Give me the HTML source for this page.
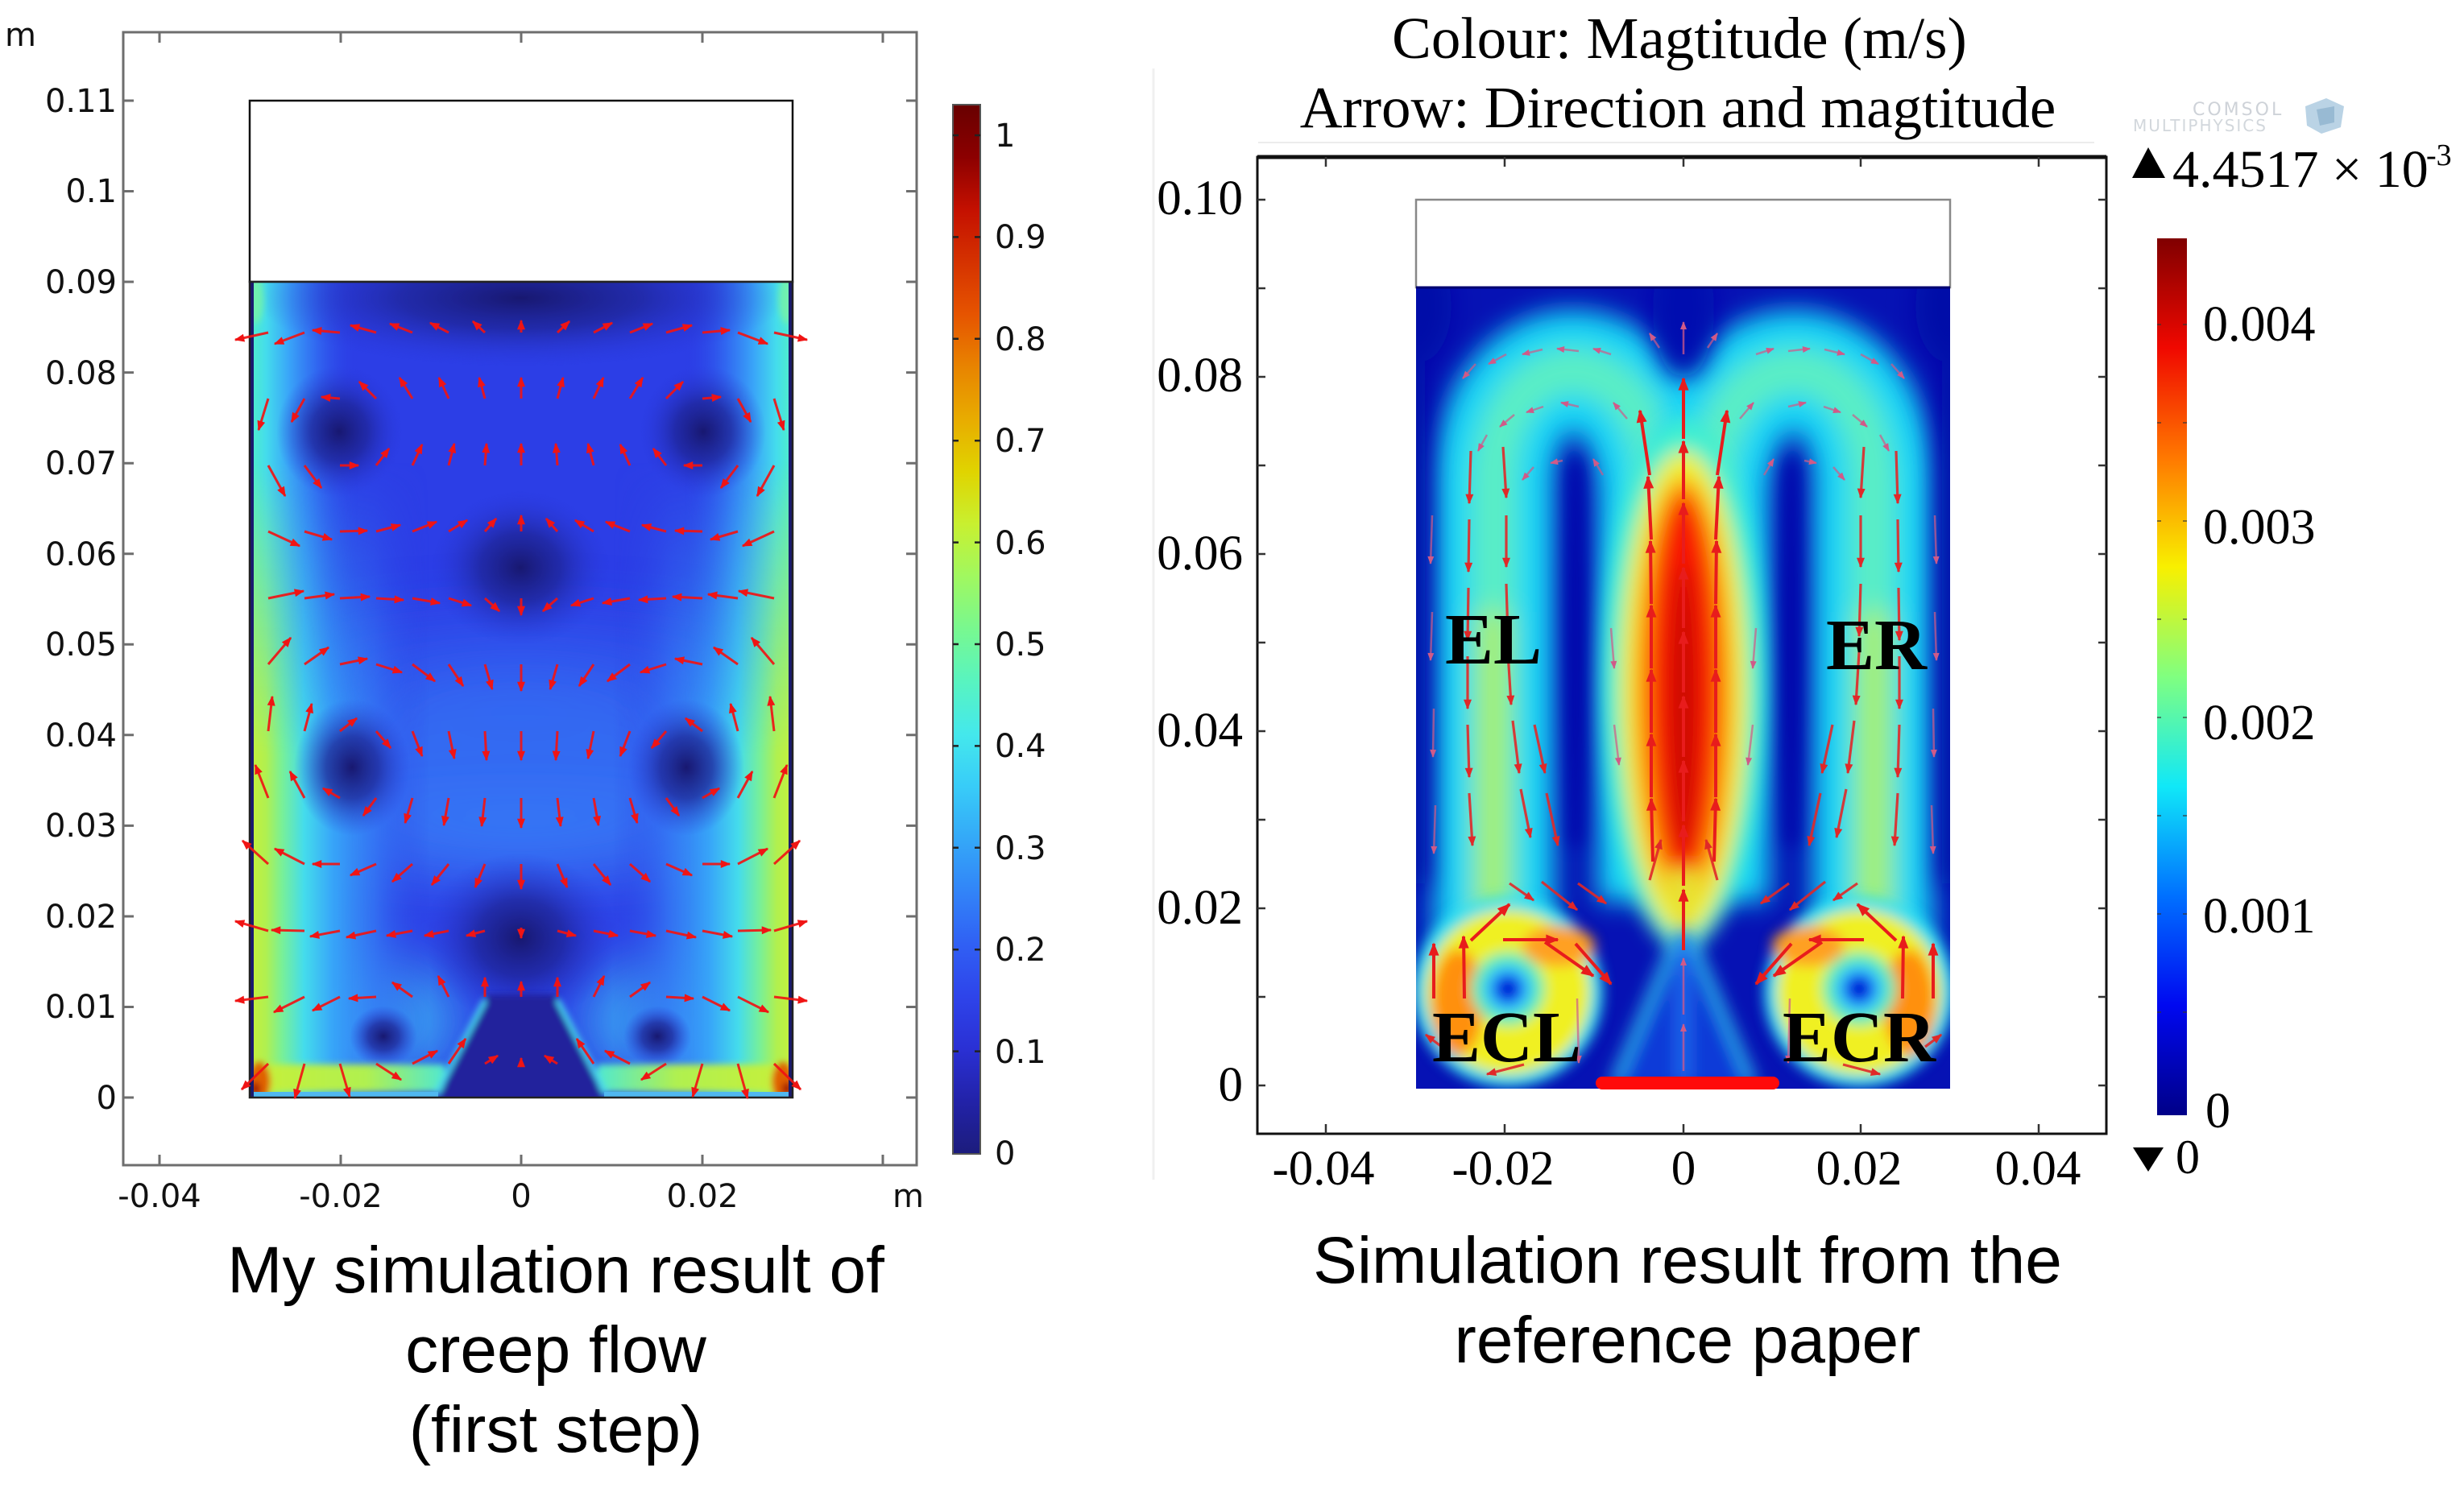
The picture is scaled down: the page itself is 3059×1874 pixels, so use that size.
<!DOCTYPE html>
<html><head><meta charset="utf-8">
<style>html,body{margin:0;padding:0;background:#fff}svg{display:block}</style>
</head><body>
<svg width="3059" height="1874" viewBox="0 0 3059 1874" xmlns="http://www.w3.org/2000/svg">
<style>
.dj{font-family:"DejaVu Sans","Liberation Sans",sans-serif;font-size:40px;fill:#111}
.tm{font-family:"Liberation Serif","DejaVu Serif",serif;fill:#000}
.cap{font-family:"Liberation Sans",Arial,sans-serif;font-size:82px;fill:#000}
</style>
<defs>
<clipPath id="cL"><rect x="310" y="350" width="674" height="1013"/></clipPath>
<clipPath id="cR"><rect x="1758" y="357" width="663" height="995"/></clipPath>
<filter id="fB" filterUnits="userSpaceOnUse" x="0" y="0" width="3059" height="1874"><feGaussianBlur stdDeviation="35"/></filter>
<filter id="fR" filterUnits="userSpaceOnUse" x="0" y="0" width="3059" height="1874"><feGaussianBlur stdDeviation="16"/></filter>
<filter id="fP" filterUnits="userSpaceOnUse" x="0" y="0" width="3059" height="1874"><feGaussianBlur stdDeviation="12"/></filter>
<filter id="fE" filterUnits="userSpaceOnUse" x="0" y="0" width="3059" height="1874"><feGaussianBlur stdDeviation="8"/></filter>
<filter id="f4" filterUnits="userSpaceOnUse" x="0" y="0" width="3059" height="1874"><feGaussianBlur stdDeviation="4"/></filter>
<filter id="f10" filterUnits="userSpaceOnUse" x="0" y="0" width="3059" height="1874"><feGaussianBlur stdDeviation="10"/></filter>

<linearGradient id="cbL" x1="0" y1="0" x2="0" y2="1">
<stop offset="0" stop-color="#680000"/><stop offset="0.05" stop-color="#8c0000"/><stop offset="0.1" stop-color="#c41000"/>
<stop offset="0.2" stop-color="#e65400"/><stop offset="0.25" stop-color="#e88400"/><stop offset="0.3" stop-color="#e8ac00"/>
<stop offset="0.35" stop-color="#e0d400"/><stop offset="0.4" stop-color="#c8f030"/><stop offset="0.45" stop-color="#a0f860"/>
<stop offset="0.5" stop-color="#78f890"/><stop offset="0.55" stop-color="#58f4c0"/><stop offset="0.6" stop-color="#44e8ec"/>
<stop offset="0.65" stop-color="#38ccf8"/><stop offset="0.7" stop-color="#34a8f8"/><stop offset="0.75" stop-color="#3284f8"/>
<stop offset="0.8" stop-color="#3060f4"/><stop offset="0.85" stop-color="#2e44ea"/><stop offset="0.9" stop-color="#2a30d4"/>
<stop offset="0.95" stop-color="#2222a8"/><stop offset="1" stop-color="#1c1c7c"/>
</linearGradient>
<linearGradient id="cbR" x1="0" y1="0" x2="0" y2="1">
<stop offset="0" stop-color="#800000"/><stop offset="0.125" stop-color="#f00800"/><stop offset="0.25" stop-color="#ff7800"/>
<stop offset="0.375" stop-color="#f8f000"/><stop offset="0.5" stop-color="#80ff80"/><stop offset="0.625" stop-color="#10e8f8"/>
<stop offset="0.75" stop-color="#0070ff"/><stop offset="0.875" stop-color="#0008f0"/><stop offset="1" stop-color="#000088"/>
</linearGradient>

<linearGradient id="gU" gradientUnits="userSpaceOnUse" x1="310" y1="0" x2="984" y2="0">
<stop offset="0" stop-color="#50f0c8"/><stop offset="0.03" stop-color="#44dcec"/><stop offset="0.07" stop-color="#3aa8f8"/>
<stop offset="0.12" stop-color="#3270f2" stop-opacity="0.9"/><stop offset="0.2" stop-color="#2c3ee6" stop-opacity="0"/>
<stop offset="0.8" stop-color="#2c3ee6" stop-opacity="0"/><stop offset="0.88" stop-color="#3270f2" stop-opacity="0.9"/>
<stop offset="0.93" stop-color="#3aa8f8"/><stop offset="0.97" stop-color="#44dcec"/><stop offset="1" stop-color="#50f0c8"/>
</linearGradient>
<linearGradient id="gLo" gradientUnits="userSpaceOnUse" x1="310" y1="0" x2="984" y2="0">
<stop offset="0" stop-color="#c8f038"/><stop offset="0.03" stop-color="#b0f050"/><stop offset="0.06" stop-color="#78f098"/>
<stop offset="0.1" stop-color="#44dcec"/><stop offset="0.15" stop-color="#38a8f8"/><stop offset="0.23" stop-color="#3478f4" stop-opacity="0.8"/>
<stop offset="0.33" stop-color="#2c3ee6" stop-opacity="0"/><stop offset="0.67" stop-color="#2c3ee6" stop-opacity="0"/>
<stop offset="0.77" stop-color="#3478f4" stop-opacity="0.8"/><stop offset="0.85" stop-color="#38a8f8"/><stop offset="0.9" stop-color="#44dcec"/>
<stop offset="0.94" stop-color="#78f098"/><stop offset="0.97" stop-color="#b0f050"/><stop offset="1" stop-color="#c8f038"/>
</linearGradient>
<linearGradient id="gMask" gradientUnits="userSpaceOnUse" x1="0" y1="350" x2="0" y2="1363">
<stop offset="0" stop-color="#000"/><stop offset="0.22" stop-color="#000"/><stop offset="0.58" stop-color="#fff"/><stop offset="1" stop-color="#fff"/>
</linearGradient>
<mask id="mLo" maskUnits="userSpaceOnUse" x="0" y="0" width="3059" height="1874"><rect x="300" y="340" width="700" height="1030" fill="url(#gMask)"/></mask>
<linearGradient id="flo" gradientUnits="userSpaceOnUse" x1="310" y1="0" x2="552" y2="0">
<stop offset="0" stop-color="#c8f038"/><stop offset="0.6" stop-color="#b0f050"/><stop offset="1" stop-color="#50e8d0"/>
</linearGradient>
<radialGradient id="dk">
<stop offset="0" stop-color="#181870"/><stop offset="0.45" stop-color="#1e2496" stop-opacity="0.75"/><stop offset="1" stop-color="#2a38d8" stop-opacity="0"/>
</radialGradient>

<marker id="ha" viewBox="0 0 10 8" refX="9" refY="4" markerWidth="14" markerHeight="10" markerUnits="userSpaceOnUse" orient="auto"><path d="M0,0 L10,4 L0,8 z" fill="#f01414"/></marker>
<marker id="hS" viewBox="0 0 10 8" refX="9" refY="4" markerWidth="18" markerHeight="13" markerUnits="userSpaceOnUse" orient="auto"><path d="M0,0 L10,4 L0,8 z" fill="#e81c1c"/></marker>
<marker id="hM" viewBox="0 0 10 8" refX="9" refY="4" markerWidth="14" markerHeight="10" markerUnits="userSpaceOnUse" orient="auto"><path d="M0,0 L10,4 L0,8 z" fill="#e02828"/></marker>
<marker id="hF" viewBox="0 0 10 8" refX="9" refY="4" markerWidth="11" markerHeight="8" markerUnits="userSpaceOnUse" orient="auto"><path d="M0,0 L10,4 L0,8 z" fill="#d05a88"/></marker>
</defs>

<rect width="3059" height="1874" fill="#fff"/>

<!-- ================= LEFT PANEL ================= -->
<rect x="153" y="40" width="985" height="1407" fill="none" stroke="#6e6e6e" stroke-width="3"/>
<g stroke="#6e6e6e" stroke-width="3">
<path d="M153,125h13M153,237.5h13M153,350h13M153,462.6h13M153,575.2h13M153,687.7h13M153,800.3h13M153,912.8h13M153,1025.4h13M153,1138h13M153,1250.5h13M153,1363h13"/>
<path d="M1138,125h-13M1138,237.5h-13M1138,350h-13M1138,462.6h-13M1138,575.2h-13M1138,687.7h-13M1138,800.3h-13M1138,912.8h-13M1138,1025.4h-13M1138,1138h-13M1138,1250.5h-13M1138,1363h-13"/>
<path d="M198,40v13M423,40v13M647,40v13M872,40v13M1096,40v13M198,1447v-13M423,1447v-13M647,1447v-13M872,1447v-13M1096,1447v-13"/>
</g>
<g class="dj" text-anchor="end">
<text x="145" y="139">0.11</text><text x="145" y="251">0.1</text><text x="145" y="364">0.09</text>
<text x="145" y="477">0.08</text><text x="145" y="589">0.07</text><text x="145" y="702">0.06</text>
<text x="145" y="814">0.05</text><text x="145" y="927">0.04</text><text x="145" y="1039">0.03</text>
<text x="145" y="1152">0.02</text><text x="145" y="1264">0.01</text><text x="145" y="1377">0</text>
</g>
<g class="dj" text-anchor="middle">
<text x="198" y="1499">-0.04</text><text x="423" y="1499">-0.02</text><text x="647" y="1499">0</text><text x="872" y="1499">0.02</text>
</g>
<text class="dj" x="6" y="57">m</text>
<text class="dj" x="1108" y="1499">m</text>

<rect x="310" y="125" width="674" height="225" fill="#fff" stroke="#111" stroke-width="2.5"/>

<g clip-path="url(#cL)">
<rect x="310" y="350" width="674" height="1013" fill="#2c3ee6"/>
<g filter="url(#fB)">
<ellipse cx="646" cy="950" rx="250" ry="120" fill="#3578f6" opacity="0.75"/>
<ellipse cx="646" cy="1045" rx="320" ry="60" fill="#3a82f8" opacity="0.55"/>
<ellipse cx="646" cy="820" rx="300" ry="55" fill="#3264f2" opacity="0.5"/>
<ellipse cx="470" cy="1268" rx="100" ry="75" fill="#3cb8f4" opacity="0.85"/>
<ellipse cx="824" cy="1268" rx="100" ry="75" fill="#3cb8f4" opacity="0.85"/>
</g>
<rect x="310" y="350" width="674" height="1013" fill="url(#gU)"/>
<rect x="310" y="350" width="674" height="1013" fill="url(#gLo)" mask="url(#mLo)"/>
<ellipse cx="646" cy="370" rx="330" ry="85" fill="url(#dk)"/>
<ellipse cx="421" cy="536" rx="78" ry="82" fill="url(#dk)"/>
<ellipse cx="873" cy="536" rx="78" ry="82" fill="url(#dk)"/>
<ellipse cx="646" cy="705" rx="110" ry="95" fill="url(#dk)"/>
<ellipse cx="437" cy="953" rx="72" ry="85" fill="url(#dk)"/>
<ellipse cx="852" cy="953" rx="72" ry="85" fill="url(#dk)"/>
<ellipse cx="646" cy="1165" rx="120" ry="105" fill="url(#dk)"/>
<ellipse cx="476" cy="1287" rx="42" ry="38" fill="url(#dk)"/>
<ellipse cx="816" cy="1287" rx="42" ry="38" fill="url(#dk)"/>
<g filter="url(#f4)">
<rect x="310" y="1322" width="242" height="34" fill="url(#flo)"/>
<rect x="310" y="1322" width="242" height="34" fill="url(#flo)" transform="translate(1294,0) scale(-1,1)"/>
<polygon points="604,1235 690,1235 752,1368 542,1368" fill="#22229c"/>
<line x1="542" y1="1358" x2="602" y2="1242" stroke="#48d8f0" stroke-width="6"/>
<line x1="752" y1="1358" x2="692" y2="1242" stroke="#48d8f0" stroke-width="6"/>
<ellipse cx="322" cy="1343" rx="14" ry="24" fill="#e06000"/>
<ellipse cx="972" cy="1343" rx="14" ry="24" fill="#e06000"/>
<ellipse cx="317" cy="1352" rx="6" ry="8" fill="#a01000"/>
<ellipse cx="977" cy="1352" rx="6" ry="8" fill="#a01000"/>
<ellipse cx="317" cy="372" rx="10" ry="30" fill="#70f0b0"/>
<ellipse cx="977" cy="372" rx="10" ry="30" fill="#70f0b0"/>
</g>
<rect x="310" y="1356" width="234" height="7" fill="#50b8f0"/>
<rect x="750" y="1356" width="234" height="7" fill="#50b8f0"/>
<rect x="310" y="350" width="5" height="1013" fill="#1a1a70"/>
<rect x="979" y="350" width="5" height="1013" fill="#1a1a70"/>
</g>
<rect x="310" y="350" width="674" height="1013" fill="none" stroke="#222" stroke-width="2.5"/>

<g id="la" stroke="#f01414" stroke-width="3" stroke-opacity="0.92" marker-end="url(#ha)">
<line x1="333" y1="413" x2="292" y2="422"/><line x1="378" y1="413" x2="341" y2="427"/><line x1="422" y1="413" x2="388" y2="410"/><line x1="467" y1="413" x2="435" y2="404"/><line x1="512" y1="413" x2="484" y2="402"/><line x1="557" y1="413" x2="534" y2="401"/><line x1="602" y1="413" x2="587" y2="399"/>
<line x1="333" y1="495" x2="321" y2="534"/><line x1="378" y1="495" x2="362" y2="524"/><line x1="422" y1="495" x2="399" y2="493"/><line x1="467" y1="495" x2="446" y2="474"/><line x1="512" y1="495" x2="496" y2="469"/><line x1="557" y1="495" x2="545" y2="469"/><line x1="602" y1="495" x2="595" y2="469"/>
<line x1="333" y1="578" x2="354" y2="616"/><line x1="378" y1="578" x2="399" y2="606"/><line x1="422" y1="578" x2="445" y2="578"/><line x1="467" y1="578" x2="483" y2="557"/><line x1="512" y1="578" x2="524" y2="552"/><line x1="557" y1="578" x2="564" y2="551"/><line x1="602" y1="578" x2="604" y2="551"/>
<line x1="333" y1="660" x2="372" y2="678"/><line x1="378" y1="660" x2="412" y2="670"/><line x1="422" y1="660" x2="456" y2="659"/><line x1="467" y1="660" x2="497" y2="652"/><line x1="512" y1="660" x2="542" y2="648"/><line x1="557" y1="660" x2="580" y2="646"/><line x1="602" y1="660" x2="616" y2="644"/>
<line x1="333" y1="743" x2="377" y2="734"/><line x1="378" y1="743" x2="415" y2="738"/><line x1="422" y1="743" x2="459" y2="741"/><line x1="467" y1="743" x2="501" y2="745"/><line x1="512" y1="743" x2="546" y2="749"/><line x1="557" y1="743" x2="585" y2="752"/><line x1="602" y1="743" x2="620" y2="759"/>
<line x1="333" y1="825" x2="361" y2="792"/><line x1="378" y1="825" x2="408" y2="804"/><line x1="422" y1="825" x2="456" y2="818"/><line x1="467" y1="825" x2="499" y2="835"/><line x1="512" y1="825" x2="540" y2="846"/><line x1="557" y1="825" x2="575" y2="852"/><line x1="602" y1="825" x2="611" y2="856"/>
<line x1="333" y1="908" x2="338" y2="865"/><line x1="378" y1="908" x2="387" y2="874"/><line x1="422" y1="908" x2="443" y2="892"/><line x1="467" y1="908" x2="485" y2="929"/><line x1="512" y1="908" x2="524" y2="939"/><line x1="557" y1="908" x2="564" y2="942"/><line x1="602" y1="908" x2="604" y2="944"/>
<line x1="333" y1="991" x2="317" y2="950"/><line x1="378" y1="991" x2="360" y2="958"/><line x1="422" y1="991" x2="401" y2="979"/><line x1="467" y1="991" x2="451" y2="1013"/><line x1="512" y1="991" x2="503" y2="1022"/><line x1="557" y1="991" x2="551" y2="1025"/><line x1="602" y1="991" x2="598" y2="1026"/>
<line x1="333" y1="1073" x2="301" y2="1044"/><line x1="378" y1="1073" x2="341" y2="1054"/><line x1="422" y1="1073" x2="388" y2="1073"/><line x1="467" y1="1073" x2="435" y2="1087"/><line x1="512" y1="1073" x2="487" y2="1095"/><line x1="557" y1="1073" x2="536" y2="1099"/><line x1="602" y1="1073" x2="590" y2="1102"/>
<line x1="333" y1="1156" x2="292" y2="1144"/><line x1="378" y1="1156" x2="337" y2="1155"/><line x1="422" y1="1156" x2="385" y2="1163"/><line x1="467" y1="1156" x2="430" y2="1164"/><line x1="512" y1="1156" x2="480" y2="1162"/><line x1="557" y1="1156" x2="527" y2="1162"/><line x1="602" y1="1156" x2="579" y2="1162"/>
<line x1="333" y1="1238" x2="292" y2="1243"/><line x1="378" y1="1238" x2="340" y2="1257"/><line x1="422" y1="1238" x2="388" y2="1255"/><line x1="467" y1="1238" x2="433" y2="1240"/><line x1="512" y1="1238" x2="487" y2="1220"/><line x1="557" y1="1238" x2="544" y2="1212"/><line x1="602" y1="1238" x2="602" y2="1214"/>
<line x1="333" y1="1321" x2="300" y2="1353"/><line x1="378" y1="1321" x2="366" y2="1364"/><line x1="422" y1="1321" x2="434" y2="1362"/><line x1="467" y1="1321" x2="498" y2="1341"/><line x1="512" y1="1321" x2="543" y2="1305"/><line x1="557" y1="1321" x2="578" y2="1290"/><line x1="602" y1="1321" x2="618" y2="1311"/>
</g>
<use href="#la" transform="translate(1294,0) scale(-1,1)"/>
<g stroke="#f01414" stroke-width="3" stroke-opacity="0.9" marker-end="url(#ha)">
<line x1="647" y1="413" x2="647" y2="398"/><line x1="647" y1="495" x2="647" y2="469"/><line x1="647" y1="578" x2="647" y2="551"/>
<line x1="647" y1="660" x2="647" y2="640"/><line x1="647" y1="743" x2="647" y2="764"/><line x1="647" y1="825" x2="647" y2="858"/>
<line x1="647" y1="908" x2="647" y2="944"/><line x1="647" y1="991" x2="647" y2="1028"/><line x1="647" y1="1073" x2="647" y2="1104"/>
<line x1="647" y1="1152" x2="647" y2="1165"/><line x1="647" y1="1238" x2="647" y2="1219"/><line x1="647" y1="1324" x2="647" y2="1314"/>
</g>

<rect x="1183" y="130" width="34" height="1303" fill="url(#cbL)" stroke="#555" stroke-width="2"/>
<g stroke="#222" stroke-width="2.5">
<path d="M1183,168h7M1183,294.4h7M1183,420.8h7M1183,547.2h7M1183,673.6h7M1183,800h7M1183,926.4h7M1183,1052.8h7M1183,1179.2h7M1183,1305.6h7"/>
<path d="M1217,168h-7M1217,294.4h-7M1217,420.8h-7M1217,547.2h-7M1217,673.6h-7M1217,800h-7M1217,926.4h-7M1217,1052.8h-7M1217,1179.2h-7M1217,1305.6h-7"/>
</g>
<g class="dj">
<text x="1235" y="182">1</text><text x="1235" y="308">0.9</text><text x="1235" y="435">0.8</text><text x="1235" y="561">0.7</text>
<text x="1235" y="688">0.6</text><text x="1235" y="814">0.5</text><text x="1235" y="940">0.4</text><text x="1235" y="1067">0.3</text>
<text x="1235" y="1193">0.2</text><text x="1235" y="1320">0.1</text><text x="1235" y="1446">0</text>
</g>

<g class="cap" text-anchor="middle">
<text x="690" y="1605">My simulation result of</text>
<text x="690" y="1704">creep flow</text>
<text x="690" y="1803">(first step)</text>
</g>

<!-- ================= RIGHT PANEL ================= -->
<line x1="1432" y1="85" x2="1432" y2="1465" stroke="#f0f0f0" stroke-width="3"/>
<line x1="1562" y1="177" x2="2600" y2="177" stroke="#ececec" stroke-width="2"/>

<g class="tm" font-size="73" text-anchor="middle">
<text x="2085" y="72">Colour: Magtitude (m/s)</text>
<text x="2083" y="158">Arrow: Direction and magtitude</text>
</g>

<g opacity="0.8">
<text x="2722" y="143" font-family="'DejaVu Sans',sans-serif" font-size="22" fill="#c2c8cf" letter-spacing="3">COMSOL</text>
<text x="2648" y="163" font-family="'DejaVu Sans',sans-serif" font-size="20" fill="#c8ced4" letter-spacing="2">MULTIPHYSICS</text>
<polygon points="2862,132 2888,122 2910,132 2906,158 2882,166 2864,156" fill="#a9c9df"/>
<polygon points="2876,136 2898,132 2898,152 2880,156" fill="#7fa9c9"/>
</g>

<rect x="1561" y="195" width="1054" height="1213" fill="none" stroke="#111" stroke-width="3"/>
<line x1="1561" y1="195" x2="2615" y2="195" stroke="#111" stroke-width="5"/>
<g stroke="#333" stroke-width="2.5">
<path d="M1561,248h10M1561,358h10M1561,468h10M1561,578h10M1561,688h10M1561,798h10M1561,908h10M1561,1018h10M1561,1128h10M1561,1238h10M1561,1348h10"/>
<path d="M2615,248h-10M2615,358h-10M2615,468h-10M2615,578h-10M2615,688h-10M2615,798h-10M2615,908h-10M2615,1018h-10M2615,1128h-10M2615,1238h-10M2615,1348h-10"/>
<path d="M1646,195v12M1868,195v12M2090,195v12M2310,195v12M2531,195v12M1646,1408v-12M1868,1408v-12M2090,1408v-12M2310,1408v-12M2531,1408v-12"/>
</g>
<g class="tm" font-size="61" text-anchor="end">
<text x="1543" y="266">0.10</text><text x="1543" y="486">0.08</text><text x="1543" y="707">0.06</text>
<text x="1543" y="927">0.04</text><text x="1543" y="1147">0.02</text><text x="1543" y="1367">0</text>
</g>
<g class="tm" font-size="61" text-anchor="middle">
<text x="1643" y="1471">-0.04</text><text x="1866" y="1471">-0.02</text><text x="2090" y="1471">0</text>
<text x="2308" y="1471">0.02</text><text x="2530" y="1471">0.04</text>
</g>

<rect x="1758" y="248" width="663" height="109" fill="#fff" stroke="#888" stroke-width="2.5"/>

<g clip-path="url(#cR)">
<rect x="1758" y="357" width="663" height="995" fill="#0612b4"/>
<g filter="url(#fR)">
<g id="arcL" fill="none">
<path d="M1855,1230 L1855,600 C1855,410 2058,410 2058,620 L2058,1120" stroke="#18d4f6" stroke-width="150"/>
<path d="M1855,1230 L1855,600 C1855,410 2058,410 2058,620 L2058,900" stroke="#5ceec4" stroke-width="56"/>
<path d="M1853,760 L1853,1150" stroke="#a8f068" stroke-width="40"/>
</g>
<use href="#arcL" transform="translate(4180,0) scale(-1,1)"/>
</g>
<g filter="url(#fR)">
<ellipse cx="2090" cy="385" rx="38" ry="85" fill="#0610b0"/>
<ellipse cx="1762" cy="380" rx="40" ry="70" fill="#0008a8"/>
<ellipse cx="2418" cy="380" rx="40" ry="70" fill="#0008a8"/>
<rect x="1740" y="357" width="30" height="740" fill="#0008a8"/>
<rect x="2410" y="357" width="30" height="740" fill="#0008a8"/>
</g>
<g filter="url(#f10)" opacity="0.85">
<path d="M1956,570 Q1948,800 1956,1050 Q1964,800 1956,570 Z" stroke="#0000a8" stroke-width="16" fill="#0000a8"/>
<path d="M2224,570 Q2232,800 2224,1050 Q2216,800 2224,570 Z" stroke="#0000a8" stroke-width="16" fill="#0000a8"/>
</g>
<g filter="url(#fP)">
<ellipse cx="2090" cy="850" rx="100" ry="330" fill="#40f0d0"/>
<ellipse cx="2090" cy="860" rx="80" ry="300" fill="#f0f030"/>
<ellipse cx="2090" cy="862" rx="60" ry="268" fill="#ff9000"/>
<ellipse cx="2090" cy="855" rx="42" ry="240" fill="#f81800"/>
<ellipse cx="2090" cy="880" rx="15" ry="180" fill="#b00000" opacity="0.7"/>
<polygon points="2062,1080 2118,1080 2090,1185" fill="#e8e030"/>
</g>
<g filter="url(#f10)">
<polygon points="2090,1150 2000,1352 2180,1352" fill="#0a3ad8"/>
<line x1="2082" y1="1160" x2="2004" y2="1345" stroke="#30c8f0" stroke-width="12" stroke-opacity="0.85"/>
<line x1="2098" y1="1160" x2="2176" y2="1345" stroke="#30c8f0" stroke-width="12" stroke-opacity="0.85"/>
<line x1="2090" y1="1170" x2="2090" y2="1345" stroke="#2070f0" stroke-width="14"/>
</g>
<g filter="url(#fE)">
<g id="edL">
<circle cx="1872" cy="1232" r="118" fill="#30e0f0"/>
<circle cx="1872" cy="1232" r="102" fill="#f0f020"/>
<ellipse cx="1810" cy="1245" rx="32" ry="66" fill="#ff9010"/>
<ellipse cx="1935" cy="1175" rx="45" ry="25" fill="#ffa020"/>
<circle cx="1872" cy="1228" r="46" fill="#60f0b0"/>
<circle cx="1872" cy="1228" r="32" fill="#30c8f8"/>
<circle cx="1872" cy="1228" r="19" fill="#0030f0"/>
<circle cx="1872" cy="1228" r="9" fill="#0000c0"/>
</g>
<use href="#edL" transform="translate(4180,0) scale(-1,1)"/>
</g>
</g>
<line x1="1758" y1="357" x2="2421" y2="357" stroke="#000070" stroke-width="3"/>

<g id="ra">
<g stroke="#d05a88" stroke-width="2.5" stroke-opacity="0.7" marker-end="url(#hF)">
<line x1="2060" y1="432" x2="2048" y2="414"/><line x1="2000" y1="440" x2="1978" y2="433"/><line x1="1960" y1="436" x2="1933" y2="433"/>
<line x1="1915" y1="434" x2="1890" y2="440"/><line x1="1870" y1="440" x2="1848" y2="452"/><line x1="1832" y1="452" x2="1816" y2="470"/>
<line x1="2020" y1="520" x2="2003" y2="500"/><line x1="1960" y1="505" x2="1938" y2="500"/><line x1="1916" y1="505" x2="1895" y2="512"/>
<line x1="1880" y1="515" x2="1862" y2="530"/><line x1="1846" y1="540" x2="1835" y2="560"/>
<line x1="1990" y1="590" x2="1978" y2="570"/><line x1="1940" y1="572" x2="1925" y2="575"/><line x1="1904" y1="580" x2="1890" y2="596"/>
<line x1="1778" y1="640" x2="1776" y2="700"/><line x1="1778" y1="760" x2="1776" y2="820"/><line x1="1780" y1="880" x2="1779" y2="940"/><line x1="1782" y1="1000" x2="1780" y2="1060"/>
<line x1="1958" y1="1240" x2="1960" y2="1320"/><line x1="2000" y1="780" x2="2004" y2="830"/><line x1="2004" y1="900" x2="2010" y2="950"/>
</g>
<g stroke="#e02828" stroke-width="3.2" stroke-opacity="0.9" marker-end="url(#hM)">
<line x1="1826" y1="560" x2="1824" y2="625"/><line x1="1824" y1="645" x2="1823" y2="710"/><line x1="1823" y1="730" x2="1822" y2="795"/>
<line x1="1822" y1="815" x2="1822" y2="880"/><line x1="1822" y1="900" x2="1824" y2="965"/><line x1="1824" y1="985" x2="1828" y2="1050"/>
<line x1="1866" y1="555" x2="1870" y2="618"/><line x1="1870" y1="640" x2="1870" y2="704"/><line x1="1870" y1="725" x2="1872" y2="790"/>
<line x1="1872" y1="810" x2="1876" y2="875"/><line x1="1878" y1="895" x2="1886" y2="960"/><line x1="1888" y1="980" x2="1900" y2="1040"/>
<line x1="1905" y1="900" x2="1918" y2="960"/><line x1="1920" y1="985" x2="1934" y2="1050"/>
<line x1="2048" y1="1093" x2="2062" y2="1043"/>
<line x1="1874" y1="1097" x2="1904" y2="1118"/><line x1="1914" y1="1095" x2="1958" y2="1130"/><line x1="1959" y1="1097" x2="1994" y2="1122"/>
<line x1="1892" y1="1322" x2="1846" y2="1334"/><line x1="1790" y1="1300" x2="1770" y2="1285"/>
</g>
<g stroke="#e81c1c" stroke-width="4" marker-end="url(#hS)">
<line x1="2048" y1="590" x2="2036" y2="510"/><line x1="2050" y1="670" x2="2046" y2="592"/><line x1="2050" y1="750" x2="2049" y2="672"/>
<line x1="2050" y1="830" x2="2050" y2="752"/><line x1="2050" y1="910" x2="2050" y2="832"/><line x1="2050" y1="990" x2="2050" y2="912"/>
<line x1="2052" y1="1070" x2="2050" y2="992"/>
<line x1="1780" y1="1240" x2="1780" y2="1172"/><line x1="1818" y1="1240" x2="1817" y2="1163"/><line x1="1826" y1="1168" x2="1874" y2="1123"/>
<line x1="1866" y1="1167" x2="1934" y2="1167"/><line x1="1918" y1="1170" x2="1978" y2="1212"/><line x1="1956" y1="1172" x2="2000" y2="1222"/>
</g>
</g>
<use href="#ra" transform="translate(4180,0) scale(-1,1)"/>
<g stroke="#e81c1c" stroke-width="4" marker-end="url(#hS)">
<line x1="2090" y1="545" x2="2090" y2="470"/><line x1="2090" y1="620" x2="2090" y2="548"/><line x1="2090" y1="700" x2="2090" y2="625"/>
<line x1="2090" y1="780" x2="2090" y2="705"/><line x1="2090" y1="860" x2="2090" y2="785"/><line x1="2090" y1="940" x2="2090" y2="865"/>
<line x1="2090" y1="1020" x2="2090" y2="945"/><line x1="2090" y1="1100" x2="2090" y2="1025"/><line x1="2090" y1="1180" x2="2090" y2="1105"/>
</g>
<g stroke="#d05a88" stroke-width="2.5" stroke-opacity="0.75" marker-end="url(#hF)">
<line x1="2090" y1="1260" x2="2090" y2="1190"/><line x1="2090" y1="1330" x2="2090" y2="1272"/><line x1="2090" y1="440" x2="2090" y2="400"/>
</g>

<line x1="1989" y1="1345" x2="2201" y2="1345" stroke="#ff0a0a" stroke-width="16" stroke-linecap="round"/>

<g class="tm" font-size="90" font-weight="bold">
<text x="1794" y="824">EL</text><text x="2267" y="831">ER</text>
<text x="1778" y="1318">ECL</text><text x="2213" y="1318">ECR</text>
</g>

<rect x="2678" y="296" width="37" height="1089" fill="url(#cbR)"/>
<g stroke="#333" stroke-width="2" stroke-opacity="0.6">
<path d="M2678,1257h5M2678,1135h5M2678,1013h5M2678,891h5M2678,769h5M2678,647h5M2678,525h5M2678,403h5"/>
<path d="M2715,1257h-5M2715,1135h-5M2715,1013h-5M2715,891h-5M2715,769h-5M2715,647h-5M2715,525h-5M2715,403h-5"/>
</g>
<g class="tm" font-size="62">
<text x="2735" y="423">0.004</text><text x="2735" y="675">0.003</text><text x="2735" y="918">0.002</text>
<text x="2735" y="1158">0.001</text><text x="2738" y="1400">0</text>
</g>
<polygon points="2647,221 2667,183 2688,221" fill="#000"/>
<text class="tm" x="2697" y="232" font-size="66">4.4517 × 10</text>
<text class="tm" x="3012" y="205" font-size="38">-3</text>
<polygon points="2648,1425 2686,1425 2667,1455" fill="#000"/>
<text class="tm" x="2701" y="1457" font-size="60">0</text>

<g class="cap" text-anchor="middle">
<text x="2095" y="1593">Simulation result from the</text>
<text x="2095" y="1692">reference paper</text>
</g>
</svg>
</body></html>
